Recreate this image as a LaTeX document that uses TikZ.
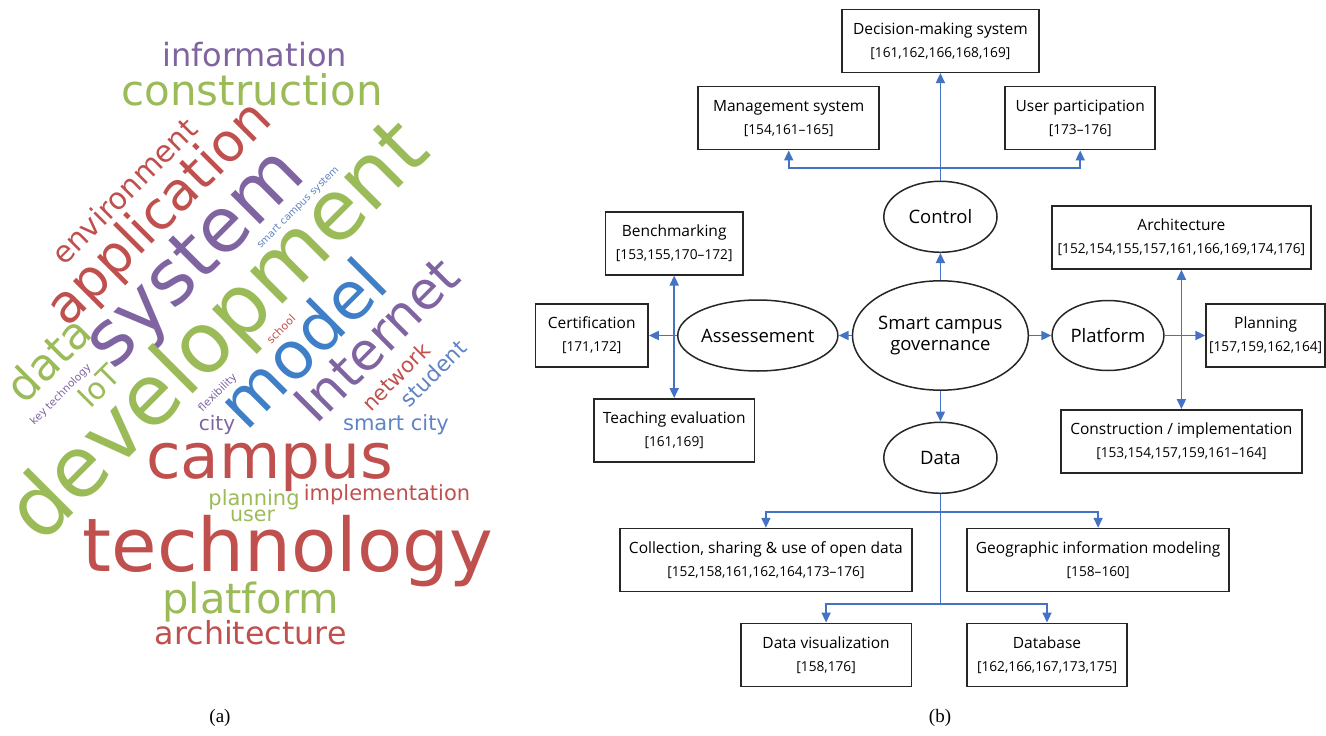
\documentclass[tikz,border=0pt]{standalone}
\usepackage{fontspec}
\usepackage{tikz}
\usetikzlibrary{arrows.meta,shapes.geometric}

\setmainfont{Liberation Serif}
\newfontfamily\boxfont{Open Sans}
\newfontfamily\cloudfont{DejaVu Sans}

\definecolor{wred}{HTML}{C0504D}
\definecolor{wgreen}{HTML}{9BBB59}
\definecolor{wpurple}{HTML}{8064A2}
\definecolor{wblue}{HTML}{3F7FC7}
\definecolor{wlblue}{HTML}{5F83C4}
\definecolor{linkblue}{HTML}{4472C4}
\definecolor{boxgray}{HTML}{262626}

\newcommand{\wsize}[1]{\fontsize{#1bp}{#1bp}\selectfont}
\newcommand{\refsz}{\fontsize{13.7bp}{23bp}\selectfont}

\tikzset{
  word/.style={font=\cloudfont, inner sep=0pt, anchor=base},
  box/.style={draw=boxgray, line width=1.5bp, align=center, minimum height=63bp,
    inner sep=0pt, font=\boxfont\fontsize{15.5bp}{23bp}\selectfont},
  topic/.style={draw=boxgray, line width=1.5bp, ellipse, inner sep=0pt, align=center,
    font=\boxfont\fontsize{18.5bp}{21bp}\selectfont},
  link/.style={draw=linkblue, line width=1.8bp}
}

\begin{document}
\begin{tikzpicture}[x=1bp,y=-1bp,>={Triangle[length=10bp,width=9bp]}]
	\useasboundingbox (0,0) rectangle (1326,735);

	% (a) word cloud
	\begin{scope}[every node/.style={word}]
		\node[wpurple] (wInformation) at (254.5,67) {\wsize{32}information};
		\node[wgreen] (wConstruction) at (252,106) {\wsize{42}construction};
		\node[wred] (wCampus) at (270,478) {\wsize{63}campus};
		\node[wpurple] (wCity) at (217,430) {\wsize{20}city};
		\node[wlblue] (wSmartCity) at (396,430) {\wsize{21}smart city};
		\node[wred] (wImplementation) at (387,500) {\wsize{21}implementation};
		\node[wgreen] (wPlanning) at (254,505) {\wsize{21}planning};
		\node[wgreen] (wUser) at (252.5,521) {\wsize{20.6}user};
		\node[wred] (wTechnology) at (288,571) {\wsize{74}technology};
		\node[wgreen] (wPlatform) at (250.5,613) {\wsize{41.6}platform};
		\node[wred] (wArchitecture) at (250.7,644) {\wsize{31.7}architecture};
	\end{scope}

	\begin{scope}[every node/.style={word,rotate=45}]
		\node[wred] (wEnvironment) at (132,199) {\wsize{30}environment};
		\node[wred] (wApplication) at (171,225) {\wsize{53}application};
		\node[wpurple] (wSystem) at (210.4,274.4) {\wsize{76}system};
		\node[wgreen] (wDevelopment) at (237,350) {\wsize{84}development};
		\node[wblue] (wModel) at (319.2,359.8) {\wsize{66}model};
		\node[wpurple] (wInternet) at (389.9,352.9) {\wsize{52}Internet};
		\node[wlblue] (wSmartCampus) at (300,209.5) {\wsize{10}smart campus system};
		\node[wred] (wSchool) at (283.8,332) {\wsize{11}school};
		\node[wred] (wNetwork) at (401.5,382.3) {\wsize{21}network};
		\node[wlblue] (wStudent) at (439,379) {\wsize{21.6}student};
		\node[wgreen] (wData) at (60,370) {\wsize{44}data};
		\node[wgreen] (wIoT) at (106.7,393.7) {\wsize{30}IoT};
		\node[wpurple] (wKeyTech) at (63,397) {\wsize{10.6}key technology};
		\node[wpurple] (wFlexibility) at (220,395) {\wsize{10.8}flexibility};
	\end{scope}

	% (b) governance diagram
	\node[topic, minimum width=159.2bp, minimum height=109.4bp] (smart) at (940.4,335.5) {Smart campus\\governance};
	\node[topic, minimum width=113.2bp, minimum height=71bp] (ctrl) at (940.4,216.8) {Control};
	\node[topic, minimum width=149bp, minimum height=71bp] (assess) at (757.8,335.5) {Assessement};
	\node[topic, minimum width=111.8bp, minimum height=70bp] (plat) at (1108,335.5) {Platform};
	\node[topic, minimum width=113.2bp, minimum height=71bp] (data) at (940.4,457.8) {Data};

	\node[box, minimum width=197bp] (dec) at (940.4,40.8) {Decision-making system\\\refsz [161,162,166,168,169]};
	\node[box, minimum width=181bp] (mgmt) at (788.7,118.2) {Management system\\\refsz [154,161–165]};
	\node[box, minimum width=150bp] (user) at (1080.2,118.2) {User participation\\\refsz [173–176]};
	\node[box, minimum width=137.3bp] (bench) at (674.2,243.3) {Benchmarking\\\refsz [153,155,170–172]};
	\node[box, minimum width=112.8bp] (cert) at (591.7,335.5) {Certification\\\refsz [171,172]};
	\node[box, minimum width=160.2bp] (teach) at (674.2,430.3) {Teaching evaluation\\\refsz [161,169]};
	\node[box, minimum width=258.7bp] (arch) at (1181.4,237.5) {Architecture\\\refsz [152,154,155,157,161,166,169,174,176]};
	\node[box, minimum width=119bp] (plan) at (1265.6,335.5) {Planning\\\refsz [157,159,162,164]};
	\node[box, minimum width=240.8bp] (constr) at (1181.4,441.3) {Construction / implementation\\\refsz [153,154,157,159,161–164]};
	\node[box, minimum width=291.8bp] (coll) at (765.9,560) {Collection, sharing \& use of open data\\\refsz [152,158,161,162,164,173–176]};
	\node[box, minimum width=262.2bp] (geo) at (1098.1,560) {Geographic information modeling\\\refsz [158–160]};
	\node[box, minimum width=170.4bp] (vis) at (826.1,654.8) {Data visualization\\\refsz [158,176]};
	\node[box, minimum width=160.1bp] (dbase) at (1047,654.8) {Database\\\refsz [162,166,167,173,175]};

	\coordinate (ctrlfork) at (ctrl.north |- 0,168.3);
	\coordinate (datafork) at (data.south |- 0,511.7);
	\coordinate (visfork) at (data.south |- 0,604);

	\begin{scope}[every path/.style={link}]
		\draw[->] (smart) -- (ctrl);
		\draw[->] (ctrl) -- (dec);
		\draw[->] (ctrlfork) -| (mgmt.south);
		\draw[->] (ctrlfork) -| (user.south);
		\draw[->] (smart) -- (assess);
		\draw[->] (assess) -- (cert);
		\draw[<->] (bench) -- (teach);
		\draw[->] (smart) -- (plat);
		\draw[->] (plat) -- (plan);
		\draw[<->] (arch) -- (constr);
		\draw[->] (smart) -- (data);
		\draw (data.south) -- (visfork);
		\draw[->] (datafork) -| (coll.north);
		\draw[->] (datafork) -| (geo.north);
		\draw[->] (visfork) -| (vis.north);
		\draw[->] (visfork) -| (dbase.north);
	\end{scope}

	\node (labA) at (220,718) {\fontsize{19bp}{22bp}\selectfont (a)};
	\node (labB) at (940,718) {\fontsize{19bp}{22bp}\selectfont (b)};
\end{tikzpicture}
\end{document}
